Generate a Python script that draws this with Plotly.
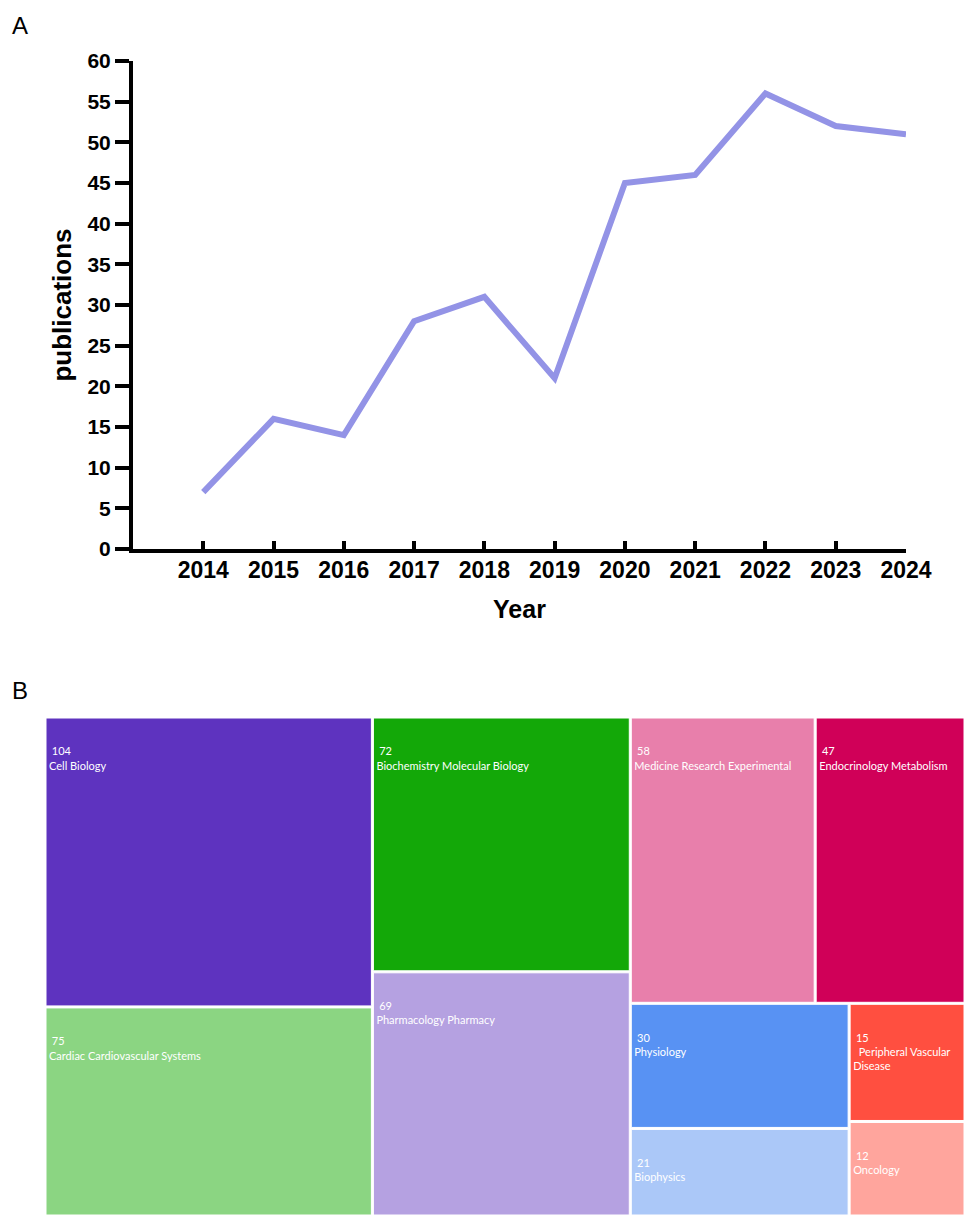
import plotly.graph_objects as go

# ---- Panel A data ----
years = [2014, 2015, 2016, 2017, 2018, 2019, 2020, 2021, 2022, 2023, 2024]
publications = [7, 16, 14, 28, 31, 21, 45, 46, 56, 52, 51]
y_ticks = list(range(0, 61, 5))

# ---- Panel B data ----
categories = ["Cell Biology", "Cardiac Cardiovascular Systems", "Biochemistry Molecular Biology",
              "Pharmacology Pharmacy", "Medicine Research Experimental", "Endocrinology Metabolism",
              "Physiology", "Biophysics", "Peripheral Vascular Disease", "Oncology"]
display_labels = ["Cell Biology", "Cardiac Cardiovascular Systems", "Biochemistry Molecular Biology",
                  "Pharmacology Pharmacy", "Medicine Research Experimental", "Endocrinology Metabolism",
                  "Physiology", "Biophysics", "  Peripheral Vascular<br>Disease", "Oncology"]
counts = [104, 75, 72, 69, 58, 47, 30, 21, 15, 12]
colors = ["#5e33bf", "#8bd582", "#13a808", "#b5a1e1", "#e87fab", "#d00058",
          "#5892f3", "#abc8f8", "#ff4f40", "#ffa59d"]

W, H = 964, 1215
bold = dict(family="Liberation Sans, Arial, sans-serif", color="black", weight=700)

fig = go.Figure()
fig.add_trace(go.Scatter(
    x=years, y=publications, mode="lines",
    line=dict(color="#9393e6", width=6),
    xaxis="x", yaxis="y", showlegend=False, hoverinfo="x+y"))

spacer = "<span style='font-size:20px;color:rgba(0,0,0,0)'>.</span><br>"
fig.add_trace(go.Treemap(
    labels=categories, parents=[""] * len(categories), values=counts,
    text=display_labels,
    texttemplate=spacer + " %{value}<br>%{text}",
    textposition="top left",
    textfont=dict(family="Lato, Open Sans, sans-serif", size=11, color="white"),
    marker=dict(colors=colors, line=dict(width=1, color="white"),
                pad=dict(t=0, l=0, r=0, b=0)),
    tiling=dict(packing="squarify", squarifyratio=1.4, pad=2),
    pathbar=dict(visible=False),
    sort=False,
    domain=dict(x=[46 / W, 1.0], y=[0.0, (H - 718) / H]),
    hovertemplate="%{label}: %{value}<extra></extra>"))

xaxis = dict(domain=[133 / W, 906 / W], range=[2013, 2024],
             tickvals=years, ticktext=[str(y) for y in years],
             ticks="inside", ticklen=8, tickwidth=4, tickcolor="black",
             showline=True, linewidth=4, linecolor="black",
             showgrid=False, zeroline=False, automargin=False,
             tickfont=dict(size=23, **bold),
             title=dict(text="Year", font=dict(size=25, **bold), standoff=20))

fig.update_layout(
    width=W, height=H, autosize=False,
    margin=dict(l=0, r=0, t=0, b=0),
    paper_bgcolor="white", plot_bgcolor="white",
    xaxis=xaxis,
    yaxis=dict(domain=[(H - 549) / H, (H - 61) / H], range=[0, 60],
               tickvals=y_ticks, ticks="outside", ticklen=14, tickwidth=4, tickcolor="black",
               showline=True, linewidth=4, linecolor="black",
               showgrid=False, zeroline=False, automargin=False,
               tickfont=dict(size=21, **bold),
               title=dict(text="publications", font=dict(size=26, **bold), standoff=9)),
    annotations=[
        dict(text="A", x=10 / W, y=1 - 25 / H, xref="paper", yref="paper",
             xanchor="left", yanchor="middle", showarrow=False,
             font=dict(family="Liberation Sans, Arial, sans-serif", size=24, color="black")),
        dict(text="B", x=10 / W, y=1 - 690 / H, xref="paper", yref="paper",
             xanchor="left", yanchor="middle", showarrow=False,
             font=dict(family="Liberation Sans, Arial, sans-serif", size=24, color="black")),
    ],
)
try:
    fig.update_xaxes(ticklabelstandoff=-3)
except Exception:
    fig.update_xaxes(ticklabelstandoff=0)

fig.write_html("out.html")
